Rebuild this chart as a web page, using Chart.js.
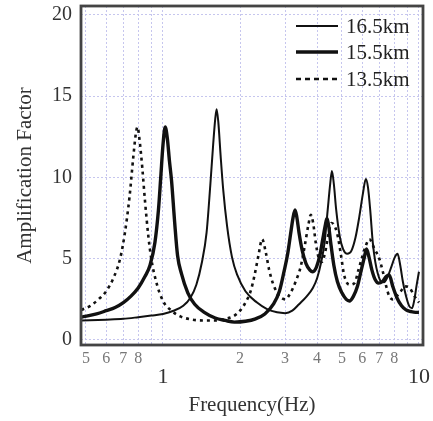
<!DOCTYPE html>
<html>
<head>
<meta charset="utf-8">
<script src="https://cdn.jsdelivr.net/npm/chart.js@4.4.1/dist/chart.umd.min.js"></script>
<style>
html, body { margin: 0; padding: 0; background: #fff; }
#wrap { width: 433px; height: 421px; position: relative; }
</style>
</head>
<body>
<div id="wrap"><canvas id="ampChart"></canvas></div>
<script>
// 16.5km (thin solid)
const freq165 = [0.48, 0.6, 0.7, 0.8, 0.9, 1.0, 1.1, 1.2, 1.28, 1.35, 1.42, 1.48, 1.53, 1.57, 1.6, 1.62, 1.645, 1.68, 1.72, 1.78, 1.86, 1.95, 2.1, 2.33, 2.55, 2.79, 3.0, 3.2, 3.4, 3.65, 3.85, 4.0, 4.15, 4.28, 4.4, 4.5, 4.57, 4.65, 4.75, 4.9, 5.05, 5.25, 5.45, 5.65, 5.85, 6.04, 6.2, 6.32, 6.45, 6.6, 6.75, 6.9, 7.1, 7.3, 7.55, 7.8, 8.05, 8.25, 8.45, 8.65, 8.9, 9.15, 9.4, 9.6, 9.8, 10.0];
const amp165 = [1.2, 1.25, 1.3, 1.4, 1.5, 1.6, 1.8, 2.1, 2.6, 3.4, 4.8, 6.6, 9.5, 12.0, 13.6, 14.2, 13.4, 11.3, 9.2, 7.0, 5.1, 4.0, 3.0, 2.3, 1.9, 1.7, 1.65, 1.8, 2.2, 2.7, 3.2, 3.8, 4.8, 6.0, 8.0, 9.6, 10.4, 9.6, 8.0, 6.4, 5.6, 5.3, 5.5, 6.3, 7.6, 9.0, 9.9, 9.4, 8.0, 6.0, 4.8, 4.1, 3.6, 3.55, 3.9, 4.5, 5.1, 5.3, 4.6, 3.6, 2.7, 2.1, 1.95, 2.5, 3.4, 4.2];

// 15.5km (thick solid)
const freq155 = [0.48, 0.55, 0.6, 0.65, 0.7, 0.75, 0.8, 0.85, 0.89, 0.93, 0.96, 0.98, 1.0, 1.02, 1.04, 1.06, 1.08, 1.11, 1.14, 1.18, 1.25, 1.33, 1.45, 1.6, 1.75, 1.9, 2.1, 2.3, 2.5, 2.7, 2.85, 2.97, 3.07, 3.15, 3.22, 3.28, 3.33, 3.4, 3.5, 3.62, 3.75, 3.85, 3.98, 4.1, 4.22, 4.3, 4.37, 4.44, 4.52, 4.65, 4.8, 5.0, 5.2, 5.35, 5.55, 5.75, 5.95, 6.1, 6.24, 6.38, 6.55, 6.75, 6.95, 7.2, 7.45, 7.65, 7.9, 8.2, 8.55, 8.9, 9.3, 9.7, 10.0];
const amp155 = [1.4, 1.6, 1.8, 2.0, 2.3, 2.7, 3.2, 3.9, 4.6, 6.0, 8.0, 10.0, 12.0, 13.1, 12.4, 11.0, 9.8, 7.3, 5.2, 4.1, 2.9, 2.2, 1.7, 1.35, 1.2, 1.1, 1.15, 1.3, 1.6, 2.2, 3.0, 4.2, 5.3, 6.5, 7.5, 8.0, 7.6, 6.6, 5.5, 4.7, 4.3, 4.2, 4.5, 5.2, 6.3, 7.0, 7.5, 7.0, 6.0, 4.6, 3.6, 2.9, 2.5, 2.4, 2.7, 3.3, 4.3, 5.0, 5.6, 5.1, 4.3, 3.7, 3.5, 3.6, 3.9, 4.0, 3.3, 2.6, 2.1, 1.85, 1.75, 1.7, 1.7];

// 13.5km (dashed)
const freq135 = [0.48, 0.52, 0.56, 0.6, 0.64, 0.68, 0.71, 0.74, 0.765, 0.785, 0.795, 0.81, 0.83, 0.85, 0.875, 0.9, 0.94, 1.0, 1.08, 1.17, 1.3, 1.45, 1.6, 1.75, 1.88, 2.0, 2.1, 2.2, 2.28, 2.36, 2.44, 2.52, 2.6, 2.7, 2.85, 3.0, 3.15, 3.3, 3.45, 3.58, 3.7, 3.78, 3.86, 3.95, 4.05, 4.17, 4.3, 4.43, 4.55, 4.65, 4.8, 4.95, 5.1, 5.35, 5.6, 5.8, 6.0, 6.2, 6.4, 6.7, 7.0, 7.2, 7.45, 7.65, 7.9, 8.2, 8.5, 8.8, 9.2, 9.6, 10.0];
const amp135 = [1.85, 2.1, 2.5, 3.0, 3.8, 5.0, 6.6, 8.8, 11.2, 12.8, 13.1, 12.3, 10.6, 8.6, 6.5, 5.0, 3.6, 2.4, 1.8, 1.45, 1.25, 1.2, 1.2, 1.3, 1.45, 1.8, 2.3, 3.0, 4.0, 5.2, 6.2, 5.4, 4.3, 3.4, 2.7, 2.5, 2.9, 3.6, 4.5, 5.8, 7.1, 7.7, 7.2, 6.0, 5.1, 4.8, 5.4, 6.5, 7.2, 7.1, 6.5, 5.3, 4.0, 3.4, 3.5, 4.3, 5.1, 5.8, 6.2, 5.6, 5.0, 4.3, 3.3, 2.7, 2.5, 2.7, 3.0, 3.3, 3.2, 2.7, 2.3];

const seriesLabels = ['16.5km', '15.5km', '13.5km'];
const xTickValues = [0.5, 0.6, 0.7, 0.8, 0.9, 1, 2, 3, 4, 5, 6, 7, 8, 9, 10];
const xTickLabels = ['5', '6', '7', '8', '', '1', '2', '3', '4', '5', '6', '7', '8', '', '10'];
const yTickValues = [0, 5, 10, 15, 20];

const SERIF = "'Liberation Serif', 'DejaVu Serif', serif";

function toPoints(xs, ys) {
    return xs.map((x, i) => ({ x: x, y: ys[i] }));
}
function isMajor(v) {
    return v === 1 || v === 10;
}

const frame = {
    id: 'frame',
    afterDatasetsDraw(chart) {
        const { ctx, chartArea: a } = chart;
        ctx.save();
        ctx.strokeStyle = '#444';
        ctx.lineWidth = 2.8;
        ctx.strokeRect(a.left, a.top, a.right - a.left, a.bottom - a.top);
        ctx.restore();
    }
};

// legend sits inside the plot, top right
const innerLegend = {
    id: 'innerLegend',
    afterDraw(chart) {
        const ctx = chart.ctx;
        const rows = [26, 52, 79];
        ctx.save();
        chart.data.datasets.forEach((ds, i) => {
            const y = rows[i];
            ctx.strokeStyle = ds.borderColor;
            ctx.lineWidth = ds.borderWidth;
            ctx.setLineDash(ds.borderDash ? [5, 4] : []);
            ctx.beginPath();
            ctx.moveTo(296, y);
            ctx.lineTo(338, y);
            ctx.stroke();
            ctx.setLineDash([]);
            ctx.fillStyle = '#222';
            ctx.font = '21px ' + SERIF;
            ctx.textBaseline = 'middle';
            ctx.textAlign = 'left';
            ctx.fillText(ds.label, 346, y + 1);
        });
        ctx.restore();
    }
};

new Chart(document.getElementById('ampChart'), {
    type: 'line',
    data: {
        datasets: [
            { label: seriesLabels[0], data: toPoints(freq165, amp165), borderColor: '#111', borderWidth: 2 },
            { label: seriesLabels[1], data: toPoints(freq155, amp155), borderColor: '#111', borderWidth: 3.4 },
            { label: seriesLabels[2], data: toPoints(freq135, amp135), borderColor: '#111', borderWidth: 2.6, borderDash: [3, 4] }
        ]
    },
    options: {
        responsive: true,
        maintainAspectRatio: false,
        animation: false,
        devicePixelRatio: 1,
        layout: { padding: { top: 6, right: 10, bottom: 0, left: 0 } },
        elements: {
            point: { radius: 0 },
            line: { cubicInterpolationMode: 'monotone', fill: false }
        },
        plugins: { legend: { display: false }, tooltip: { enabled: false } },
        scales: {
            x: {
                type: 'logarithmic',
                min: 0.4783,
                max: 10.37,
                afterBuildTicks: s => { s.ticks = xTickValues.map(v => ({ value: v, major: isMajor(v) })); },
                afterFit: s => { s.height = 76; s.paddingLeft = 0; s.paddingRight = 0; },
                grid: { color: '#c6c6ee', lineWidth: 1, drawTicks: false },
                border: { display: false, dash: [2, 2] },
                ticks: {
                    autoSkip: false,
                    maxRotation: 0,
                    padding: 4,
                    callback: (value, index) => {
                        const lbl = xTickLabels[xTickValues.indexOf(value)];
                        if (lbl === undefined) return '';
                        return isMajor(value) ? ['', lbl] : lbl;
                    },
                    color: ctx => (ctx.tick && isMajor(ctx.tick.value)) ? '#333' : '#777',
                    font: ctx => (ctx.tick && isMajor(ctx.tick.value))
                        ? { family: SERIF, size: 22, lineHeight: 0.85 }
                        : { family: SERIF, size: 16, lineHeight: 1.2 }
                },
                title: {
                    display: true,
                    text: 'Frequency(Hz)',
                    color: '#333',
                    font: { family: SERIF, size: 21 },
                    padding: { top: 0, bottom: 3 }
                }
            },
            y: {
                min: -0.31,
                max: 20.55,
                afterBuildTicks: s => { s.ticks = yTickValues.map(v => ({ value: v })); },
                afterFit: s => { s.width = 81; s.paddingTop = 0; s.paddingBottom = 0; },
                grid: { color: '#c6c6ee', lineWidth: 1, drawTicks: false },
                border: { display: false, dash: [2, 2] },
                ticks: {
                    padding: 9,
                    color: '#333',
                    font: { family: SERIF, size: 20 }
                },
                title: {
                    display: true,
                    text: 'Amplification Factor',
                    color: '#333',
                    font: { family: SERIF, size: 21 },
                    padding: { top: 13, bottom: 0 }
                }
            }
        }
    },
    plugins: [frame, innerLegend]
});
</script>
</body>
</html>
